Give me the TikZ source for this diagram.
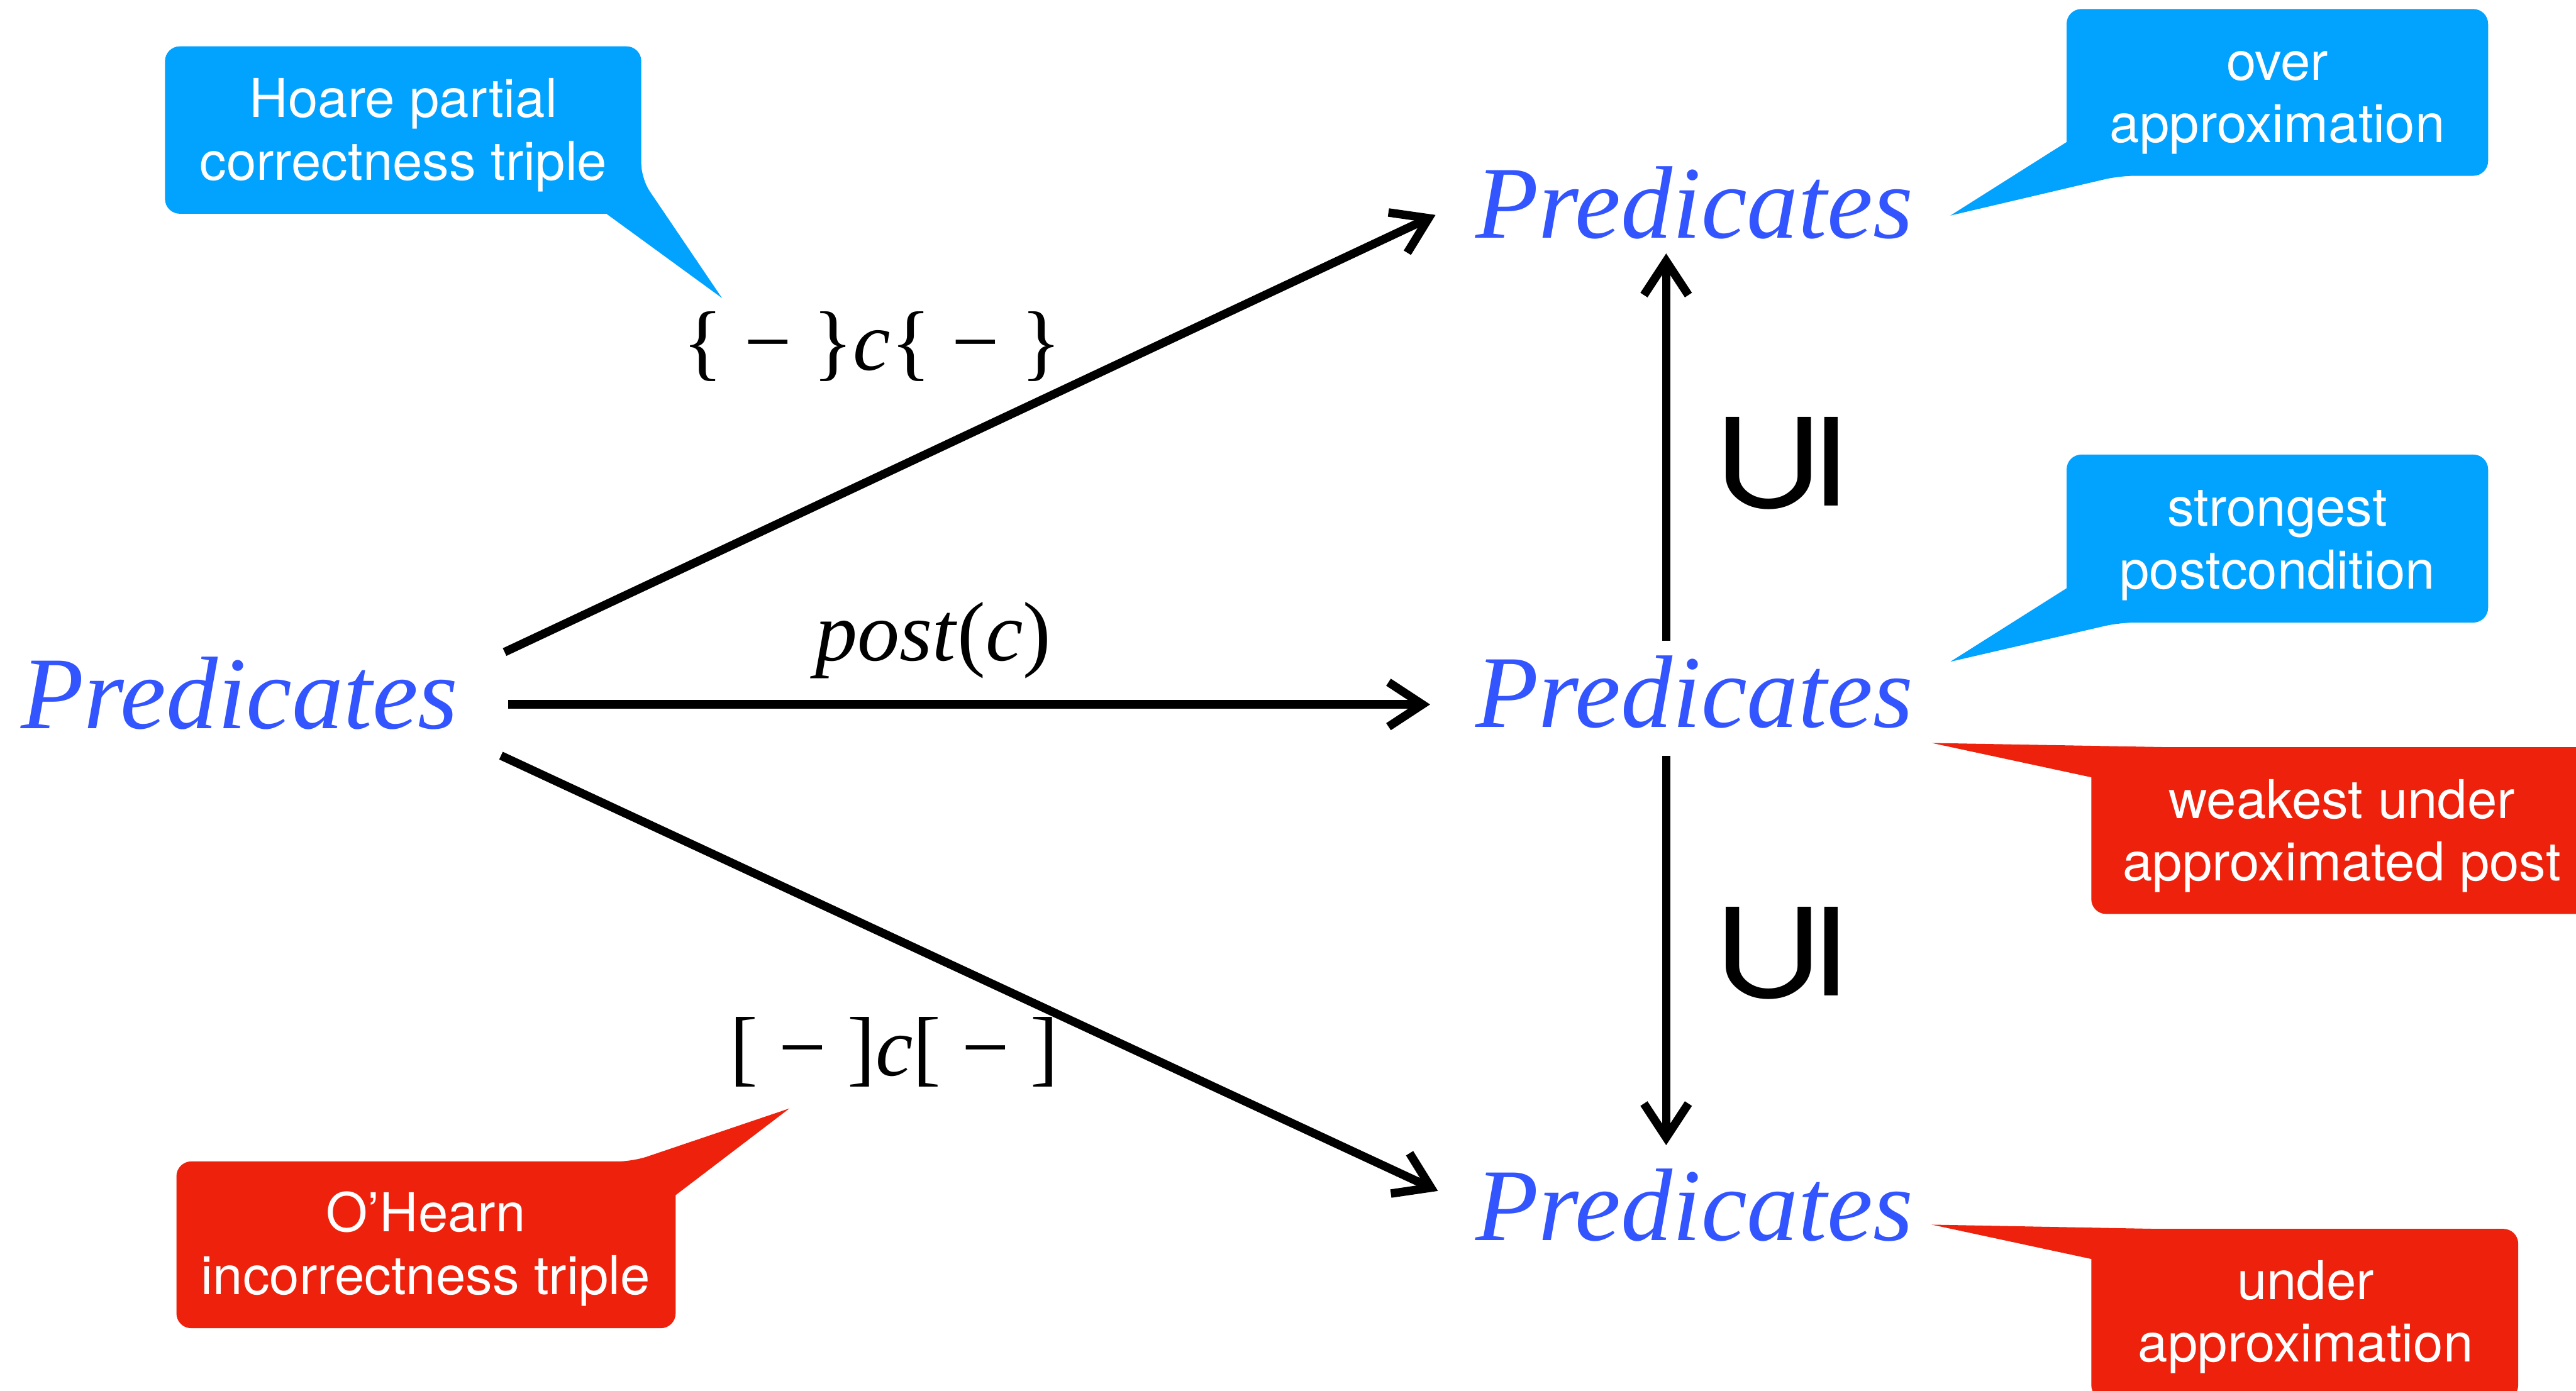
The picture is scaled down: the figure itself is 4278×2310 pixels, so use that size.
\documentclass[tikz,border=0pt]{standalone}
\usepackage{fontspec}
\usepackage{graphicx}
\setmainfont{Liberation Serif}
\newfontfamily\calloutfont{TeX Gyre Heros}
\newfontfamily\symfont{DejaVu Sans}
\usetikzlibrary{arrows.meta,calc}
\definecolor{predblue}{RGB}{51,85,255}
\definecolor{cblue}{RGB}{2,162,255}
\definecolor{cred}{RGB}{238,34,12}
\begin{document}
\begin{tikzpicture}[x=0.01cm,y=-0.01cm,
  pred/.style={font=\fontsize{48.7}{55}\selectfont\itshape, text=predblue, inner sep=0pt, anchor=base},
  lbl/.style={font=\fontsize{39.8}{45}\selectfont, inner sep=0pt, anchor=base},
  arr/.style={line width=4pt, -{Straight Barb[length=16pt,width=21pt]}},
  ctext/.style={font=\calloutfont\fontsize{25.3}{29.6}\selectfont, text=white, inner sep=0pt, anchor=base},
  subs/.style={font=\symfont\fontsize{62}{70}\selectfont, rotate=90, inner sep=0pt},
]
\useasboundingbox (0,0) rectangle (4278,2310);
\clip (0,0) rectangle (4278,2310);
\fill[white] (0,0) rectangle (4278,2310);

% main nodes
\node[pred] (L) at (398,1210) {Predicates};
\node[pred] (T) at (2814,395) {Predicates};
\node[pred] (M) at (2814,1208) {Predicates};
\node[pred] (B) at (2814,2060) {Predicates};

% arrows
\draw[arr] ($(L.base)+(440,-127)$) -- ($(T.base)+(-430,-38)$);
\draw[arr] ($(L.base)+(446,-40)$) -- ($(M.base)+(-439,-38)$);
\draw[arr] ($(L.base)+(434,45)$) -- ($(B.base)+(-426,-82)$);
\draw[arr] ($(M.base)+(-47,-144)$) -- ($(T.base)+(-47,26)$);
\draw[arr] ($(M.base)+(-47,47)$) -- ($(B.base)+(-47,-158)$);

% arrow labels
\node[lbl] (hoare) at (1448,615) {\{ − \}\textit{c}\{ − \}};
\node[lbl] (post) at (1550,1097) {\textit{post}(\textit{c})};
\node[lbl] (ohearn) at (1485,1787) {[ − ]\textit{c}[ − ]};

% subset symbols
\node[subs] (s1) at (2959,768) {\scalebox{1.1}[1.39]{⊆}};
\node[subs] (s2) at (2959,1582) {\scalebox{1.1}[1.39]{⊆}};

% callouts
\fill[cblue] (1199,495) -- (1007,355) [rounded corners=7pt] -- (274,355) -- (274,77) -- (1065,77) -- (1065,297) [sharp corners] -- cycle;
\node[ctext] (c1) at (670,195) {\begin{tabular}[t]{@{}c@{}}Hoare partial\\correctness triple\end{tabular}};

\fill[cblue] (3239,358) -- (3432,236) [rounded corners=7pt] -- (3432,15) -- (4132,15) -- (4132,292) -- (3520,292) [sharp corners] -- cycle;
\node[ctext] (c2) at (3782,133) {\begin{tabular}[t]{@{}c@{}}over\\approximation\end{tabular}};

\fill[cblue] (3239,1099) -- (3432,977) [rounded corners=7pt] -- (3432,755) -- (4132,755) -- (4132,1034) -- (3520,1034) [sharp corners] -- cycle;
\node[ctext] (c3) at (3782,874) {\begin{tabular}[t]{@{}c@{}}strongest\\postcondition\end{tabular}};

\fill[cred] (3208,1234) -- (3603,1241) -- (4330,1241) -- (4330,1518) [rounded corners=7pt] -- (3473,1518) [sharp corners] -- (3473,1291) -- cycle;
\node[ctext] (c4) at (3889,1359) {\begin{tabular}[t]{@{}c@{}}weakest under\\approximated post\end{tabular}};

\fill[cred] (3208,2034) -- (3582,2041) [rounded corners=7pt] -- (4182,2041) -- (4182,2325) -- (3473,2325) [sharp corners] -- (3473,2091) -- cycle;
\node[ctext] (c5) at (3829,2158) {\begin{tabular}[t]{@{}c@{}}under\\approximation\end{tabular}};

\fill[cred] (1311,1841) -- (1122,1985) [rounded corners=7pt] -- (1122,2206) -- (293,2206) -- (293,1929) -- (1051,1929) [sharp corners] -- cycle;
\node[ctext] (c6) at (707,2046) {\begin{tabular}[t]{@{}c@{}}O’Hearn\\incorrectness triple\end{tabular}};
\end{tikzpicture}
\end{document}
